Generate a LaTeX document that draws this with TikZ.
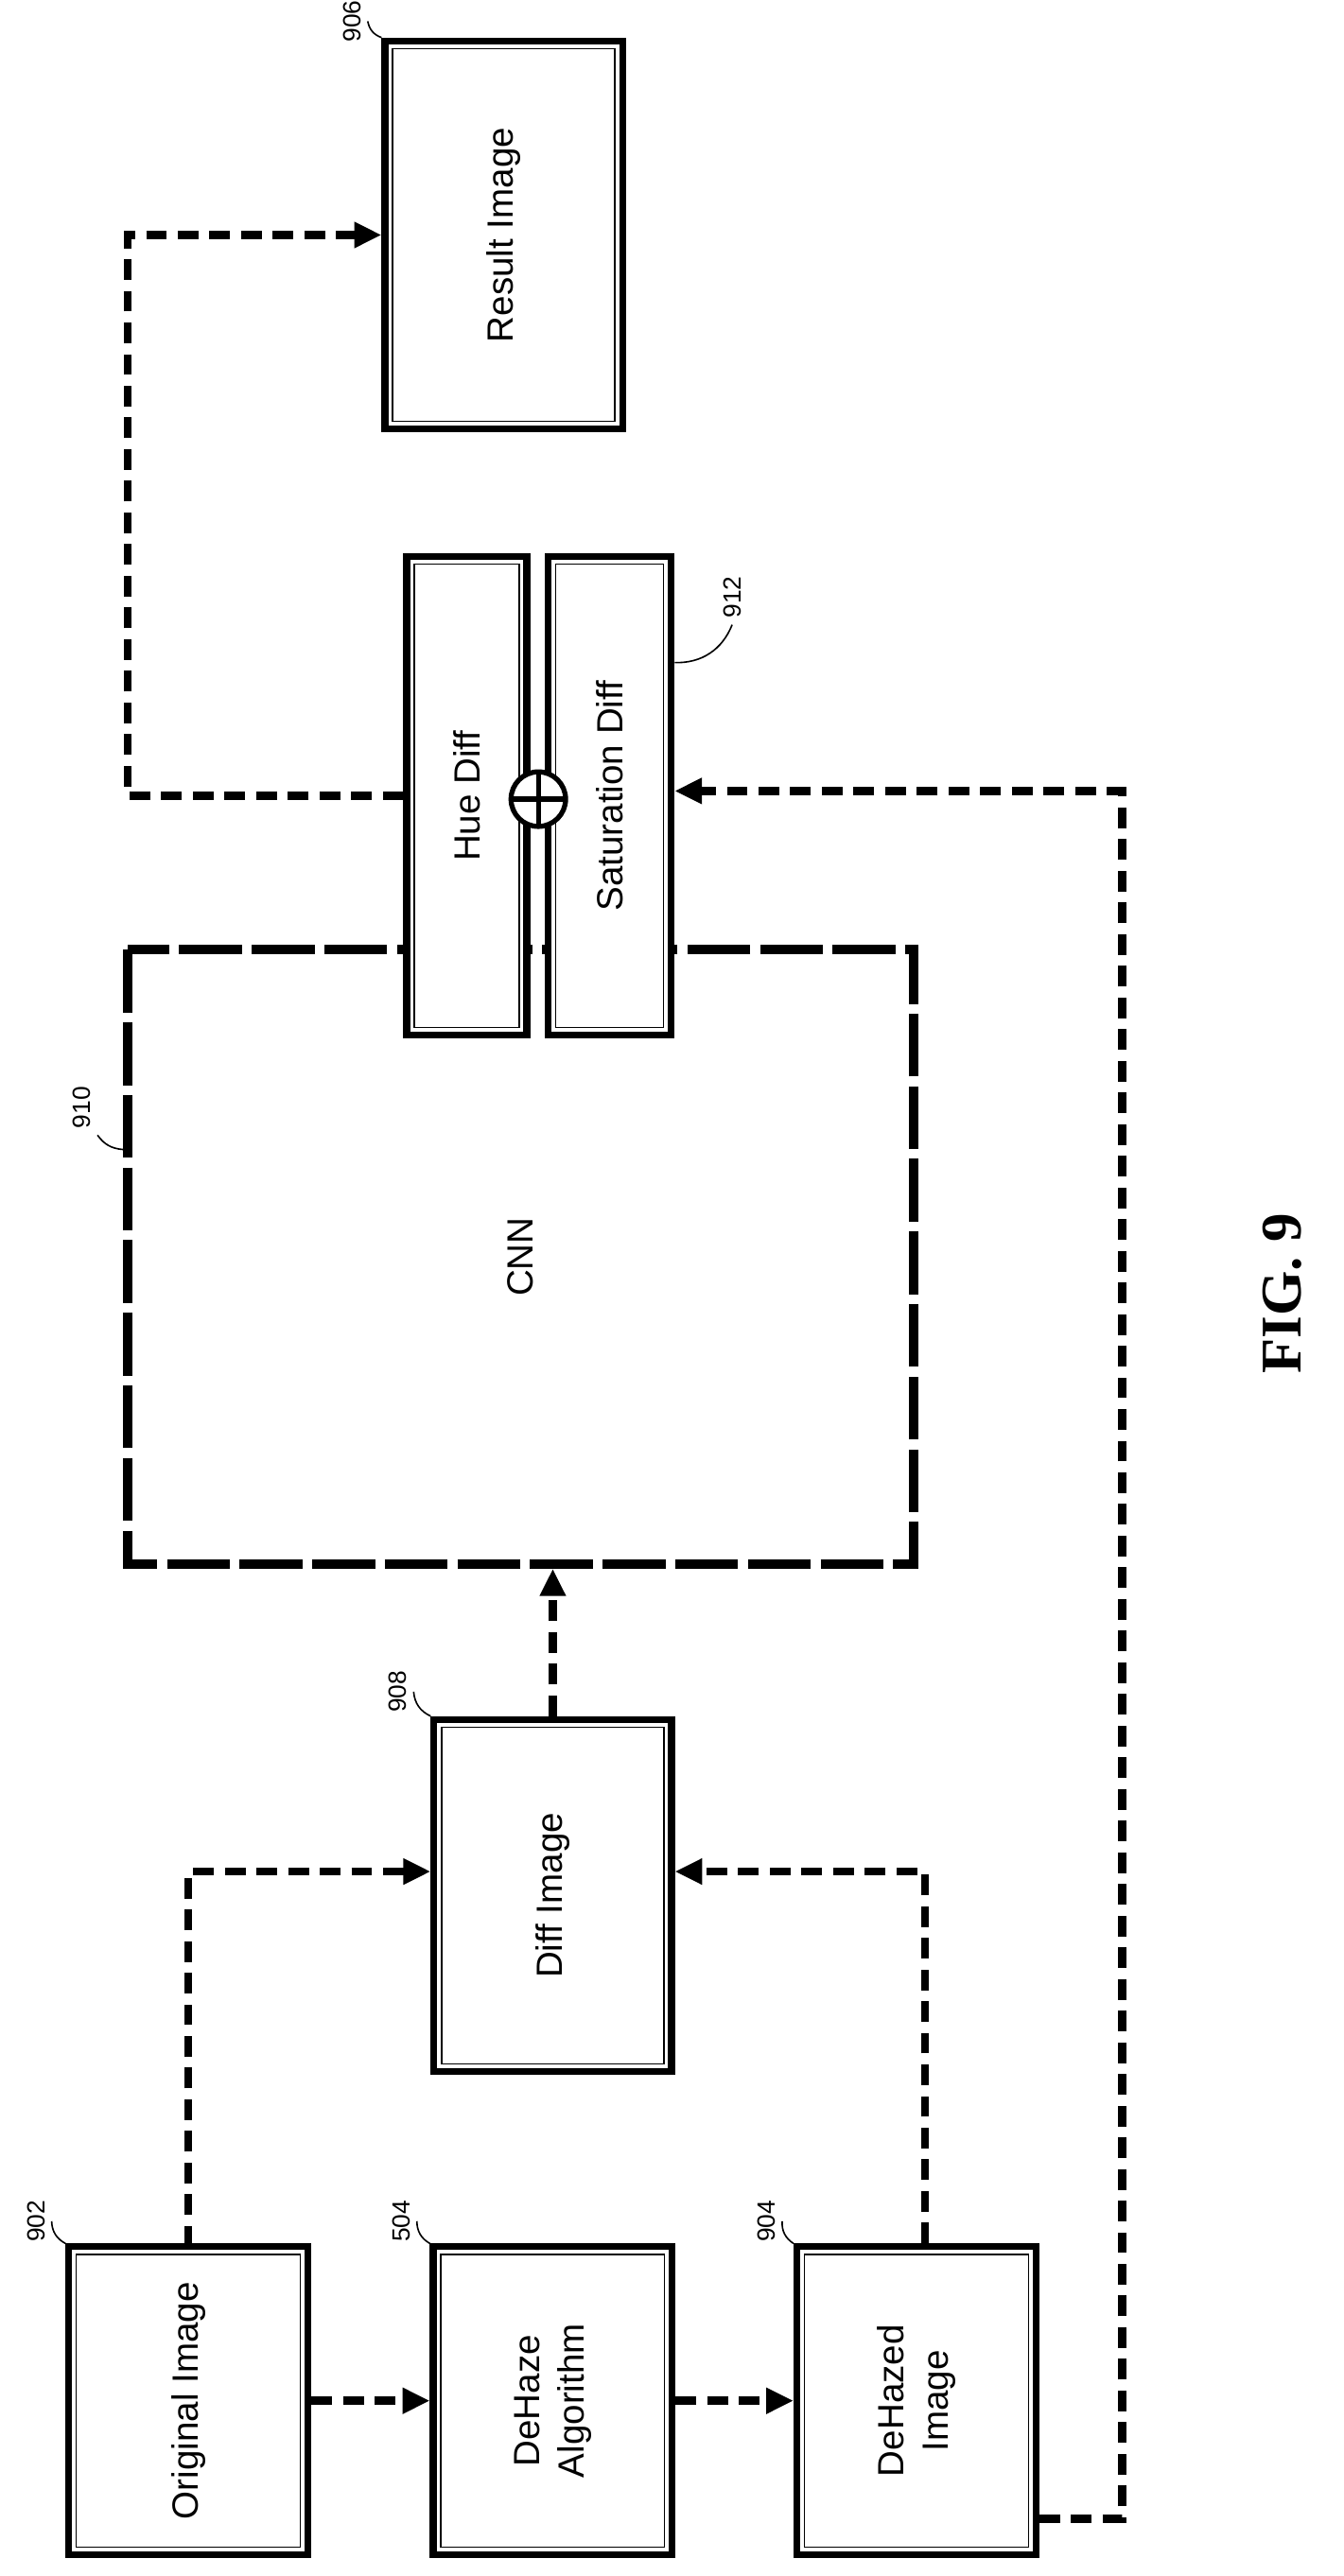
\documentclass[tikz,border=0pt]{standalone}
\usepackage{fontspec}
\setmainfont{Liberation Sans}
\newfontfamily\figfont{Liberation Serif}
\usetikzlibrary{arrows.meta}

\begin{document}
\begin{tikzpicture}[
      every node/.append style={font=\fontsize{19}{23}\selectfont},
      box/.style={draw, fill=white, line width=3.5pt, rotate=90, align=center},
      flow/.style={line width=4.2pt, dash pattern=on 0.38cm off 0.2cm,
        -{Triangle[length=0.5cm,width=0.45cm]}},
      ref/.style={rotate=90, font=\fontsize{13}{15}\selectfont},
      lead/.style={line width=.8pt}]
    \useasboundingbox (0,0) rectangle (24.6,47.19);

    % boxes
    \node[box, minimum width=5.64cm, minimum height=4.38cm] (orig) at (3.45,3.21) {Original Image};
    \node[box, minimum width=5.64cm, minimum height=4.38cm] (dehaze) at (10.125,3.21) {DeHaze\\Algorithm};
    \node[box, minimum width=5.64cm, minimum height=4.38cm] (dhz) at (16.785,3.21) {DeHazed\\Image};
    \node[box, minimum width=6.45cm, minimum height=4.35cm] (diff) at (10.125,12.465) {Diff Image};
    \node[rotate=90, draw, line width=5pt, minimum width=11.25cm, minimum height=14.4cm,
      dash pattern=on 1.15cm off 0.18cm] (cnn) at (9.54,24.165) {CNN};
    \node[box, minimum width=8.76cm, minimum height=2.2cm] (hue) at (8.55,32.61) {Hue Diff};
    \node[box, minimum width=8.76cm, minimum height=2.25cm] (sat) at (11.17,32.61) {Saturation Diff};
    \node[box, minimum width=7.11cm, minimum height=4.35cm] (result) at (9.225,42.885) {Result Image};
    \foreach \n in {orig,dehaze,dhz,diff,hue,sat,result}
      \draw[line width=.6pt] ([shift={(-.2,.2)}]\n.south west) rectangle ([shift={(.2,-.2)}]\n.north east);
    \node[circle, draw, fill=white, line width=2.6pt, minimum size=1cm,
      path picture={\draw[line width=2.6pt]
        (path picture bounding box.north) -- (path picture bounding box.south)
        (path picture bounding box.west) -- (path picture bounding box.east);}] (plus) at (9.86,32.55) {};

    % reference numerals
    \node[ref] (n902) at (0.66,6.5) {902};
    \node[ref] (n504) at (7.35,6.5) {504};
    \node[ref] (n904) at (14.04,6.5) {904};
    \node[ref] (n908) at (7.29,16.2) {908};
    \node[ref] (n910) at (1.5,26.9) {910};
    \node[ref] (n912) at (13.41,36.25) {912};
    \node[ref] (n906) at (6.45,46.8) {906};
    \draw[lead] (n902.south) to[bend right=30] (orig.north east);
    \draw[lead] (n504.south) to[bend right=30] (dehaze.north east);
    \draw[lead] (n904.south) to[bend right=30] (dhz.north east);
    \draw[lead] (n908.south) to[bend right=30] (diff.north east);
    \draw[lead] (n910.south west) to[bend right=25] ([yshift=7.68cm]cnn.north west);
    \draw[lead] (n912.west) to[bend left=35] ([yshift=-2.0cm]sat.south east);
    \draw[lead] (n906.south) to[bend right=30] (result.north east);

    % connectors
    \coordinate (turn) at (20.55,32.7);
    \coordinate (bend) at (2.34,42.885);
    \draw[flow] (orig.south) -- (dehaze.north);
    \draw[flow] (dehaze.south) -- (dhz.north);
    \draw[flow] ([yshift=-.06cm]orig.east) |- ([yshift=.44cm]diff.north);
    \draw[flow] ([xshift=.16cm]dhz.east) |- ([yshift=.44cm]diff.south);
    \draw[flow] (diff.east) -- (diff.east |- cnn.west);
    \draw[flow] ([yshift=-2.16cm]dhz.south) -| (turn) -- (turn -| sat.south);
    \draw[flow] (hue.north) -| (bend) -- (result.north);

    \node[rotate=90, font=\figfont\bfseries\fontsize{30}{34}\selectfont] (fig) at (23.49,23.49) {FIG. 9};
  \end{tikzpicture}
\end{document}
